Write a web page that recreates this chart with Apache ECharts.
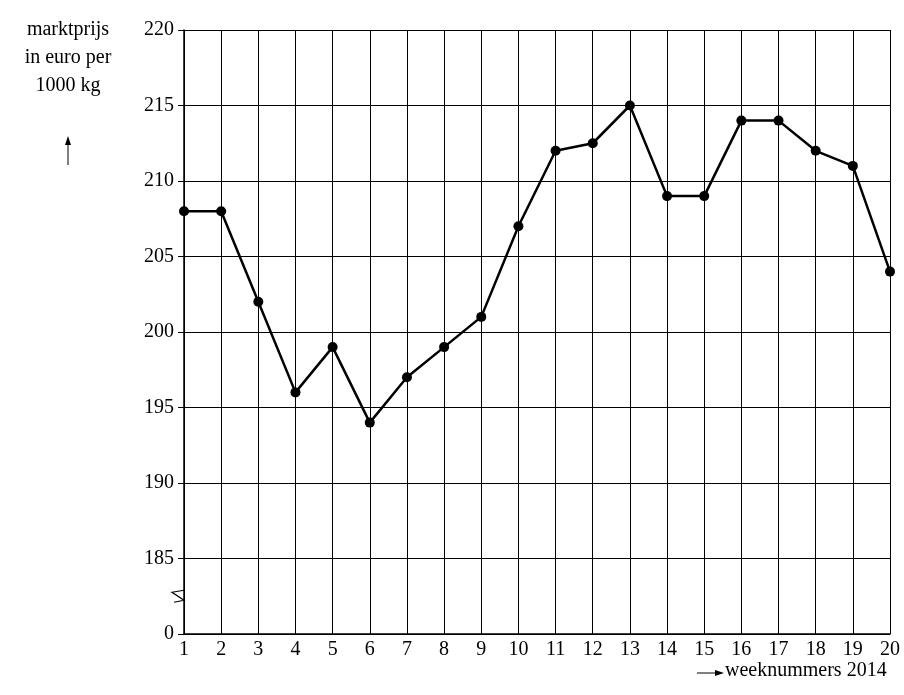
<!DOCTYPE html>
<html>
<head>
<meta charset="utf-8">
<script src="https://cdn.jsdelivr.net/npm/echarts@6/dist/echarts.min.js"></script>
<style>html,body{margin:0;padding:0;background:#fff}#chart{width:904px;height:695px}</style>
</head>
<body>
<div id="chart"></div>
<script>
var weeks = [1,2,3,4,5,6,7,8,9,10,11,12,13,14,15,16,17,18,19,20];
var prices = [208,208,202,196,199,194,197,199,201,207,212,212.5,215,209,209,214,214,212,211,204];
// 180 on the axis is drawn as "0" (broken axis)
var yTicks = {180:'0',185:'185',190:'190',195:'195',200:'200',205:'205',210:'210',215:'215',220:'220'};

var chart = echarts.init(document.getElementById('chart'));
var font = 'Liberation Serif, Times New Roman, serif';

chart.setOption({
	animation: false,
	grid: { left: 184, right: 14, top: 30, bottom: 61 },
	xAxis: {
		type: 'value', min: 1, max: 20, interval: 1,
		axisLine: { lineStyle: { color: '#000', width: 1.5 } },
		axisTick: { show: false },
		axisLabel: { color: '#000', fontFamily: font, fontSize: 20, margin: 6 },
		splitLine: { lineStyle: { color: '#000', width: 1 } }
	},
	yAxis: {
		type: 'value', min: 180, max: 220, interval: 5,
		axisLine: { show: true, lineStyle: { color: '#000', width: 1.5 } },
		axisTick: { show: true, length: 6, inside: false, lineStyle: { color: '#000' } },
		axisLabel: { color: '#000', fontFamily: font, fontSize: 20, margin: 10,
			formatter: function (v) { return yTicks[v]; } },
		splitLine: { lineStyle: { color: '#000', width: 1 } }
	},
	series: [{
		type: 'line',
		data: weeks.map(function (w, i) { return [w, prices[i]]; }),
		symbol: 'circle', symbolSize: 10,
		lineStyle: { color: '#000', width: 2.5 },
		itemStyle: { color: '#000' }
	}]
});

var p = chart.convertToPixel({ gridIndex: 0 }, [1, 182.5]);
chart.setOption({
	graphic: [
		{ type: 'polyline', shape: { points: [[p[0], p[1] - 6], [p[0] - 12, p[1] - 4], [p[0], p[1] + 4], [p[0] - 10, p[1] + 6]] },
			style: { stroke: '#000', lineWidth: 1.2, fill: null } },
		{ type: 'text', x: 68, y: 16, style: { text: 'marktprijs\nin euro per\n1000 kg', font: '20px ' + font, fill: '#000', align: 'center', lineHeight: 28 } },
		{ type: 'polyline', shape: { points: [[68, 165], [68, 140]] }, style: { stroke: '#000', lineWidth: 1 } },
		{ type: 'polygon', shape: { points: [[68, 136], [65, 145], [71, 145]] }, style: { fill: '#000' } },
		{ type: 'polyline', shape: { points: [[697, 673], [720, 673]] }, style: { stroke: '#000', lineWidth: 1 } },
		{ type: 'polygon', shape: { points: [[724, 673], [715, 670], [715, 676]] }, style: { fill: '#000' } },
		{ type: 'text', x: 725, y: 661, style: { text: 'weeknummers 2014', font: '20px ' + font, fill: '#000' } }
	]
});
</script>
</body>
</html>
